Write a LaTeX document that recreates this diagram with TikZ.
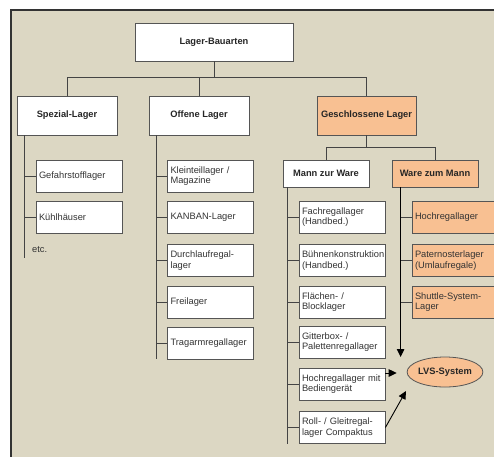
\documentclass[tikz,border=0pt]{standalone}
\usepackage{fontspec}
\setmainfont{Liberation Sans}
\usetikzlibrary{arrows.meta,shapes.geometric}
\definecolor{bg}{HTML}{DCD7C3}
\definecolor{peach}{HTML}{F8C092}
\definecolor{edge}{HTML}{555555}
\definecolor{linec}{HTML}{444444}
\definecolor{txt}{HTML}{333333}
\begin{document}
\begin{tikzpicture}[x=1pt,y=-1pt,
  every node/.style={font=\fontsize{9.3}{10.6}\selectfont, text=txt},
  hbox/.style={draw=edge, line width=0.8pt, fill=white, inner sep=0pt, align=center,
    font=\bfseries\fontsize{9.3}{10.6}\selectfont, text=black!85},
  cbox/.style={draw=edge, line width=0.8pt, fill=white, minimum width=86pt, minimum height=32pt,
    text width=80pt, inner sep=3pt, align=left},
  conn/.style={draw=linec, line width=0.9pt},
  arr/.style={draw=black, line width=0.9pt, -{Triangle[length=8pt,width=7.5pt]}}
]
\useasboundingbox (0,0) rectangle (494,456);
\fill[bg] (11,9.5) rectangle (510,470);
\draw[line width=2pt, draw=black!80] (11,470) -- (11,9.5) -- (510,9.5);

% top levels
\node[hbox, minimum width=158pt, minimum height=38pt] (root) at (214,42) {Lager-Bauarten};
\node[hbox, minimum width=100pt, minimum height=39pt] (spez) at (67,115.5) {Spezial-Lager};
\node[hbox, minimum width=100pt, minimum height=39pt] (off) at (199,115.5) {Offene Lager};
\node[hbox, minimum width=99pt, minimum height=39pt, fill=peach] (ges) at (366.5,115.5) {Geschlossene Lager};
\node[hbox, minimum width=86pt, minimum height=27pt] (mzw) at (326,173.5) {Mann zur Ware};
\node[hbox, minimum width=86pt, minimum height=27pt, fill=peach] (wzm) at (435,173.5) {Ware zum Mann};

% Spezial-Lager children
\node[cbox] (s1) at (79,176) {Gefahrstofflager};
\node[cbox] (s2) at (79,217) {Kühlhäuser};
\node[anchor=west, inner sep=0pt] (etc) at (32,250) {etc.};

% Offene Lager children
\node[cbox] (o1) at (210.5,176) {Kleinteillager /\\Magazine};
\node[cbox] (o2) at (210.5,217) {KANBAN-Lager};
\node[cbox] (o3) at (210.5,260.5) {Durchlaufregal-\\lager};
\node[cbox] (o4) at (210.5,302) {Freilager};
\node[cbox] (o5) at (210.5,343) {Tragarmregallager};

% Mann zur Ware children
\node[cbox] (m1) at (342,217) {Fachregallager\\(Handbed.)};
\node[cbox] (m2) at (342,260.5) {Bühnenkonstruktion\\(Handbed.)};
\node[cbox] (m3) at (342,302) {Flächen- /\\Blocklager};
\node[cbox] (m4) at (342,342) {Gitterbox- /\\Palettenregallager};
\node[cbox] (m5) at (342,384) {Hochregallager mit\\Bediengerät};
\node[cbox] (m6) at (342,427.5) {Roll- / Gleitregal-\\lager Compaktus};

% Ware zum Mann children
\node[cbox, fill=peach] (w1) at (455,217) {Hochregallager};
\node[cbox, fill=peach] (w2) at (455,260.5) {Paternosterlager\\(Umlaufregale)};
\node[cbox, fill=peach] (w3) at (455,302) {Shuttle-System-\\Lager};

% LVS
\node[ellipse, draw=edge, line width=0.8pt, fill=peach, minimum width=58pt, minimum height=30pt, inner sep=0pt,
  font=\bfseries\fontsize{9.3}{10.6}\selectfont, text=black!85] (lvs) at (445,372) {LVS-System};

% tree connectors
\draw[conn] (root.south) -- ++(0,16) coordinate (rj);
\draw[conn] (spez.north) |- (rj) -| (ges.north);
\draw[conn] (off.north) -- (off.north |- rj);
\draw[conn] (ges.south) -- ++(0,12) coordinate (gj);
\draw[conn] (mzw.north) |- (gj) -| (wzm.north);

% Spezial branch
\coordinate (sa) at ([xshift=8pt]spez.south west);
\coordinate (se) at (sa |- 0,258);
\draw[conn] (sa) -- (se);
\foreach \n in {s1,s2} \draw[conn] (\n.west) -- (\n.west -| sa);

% Offene branch
\coordinate (oa) at ([xshift=8pt]off.south west);
\draw[conn] (oa) -- (oa |- o5.south);
\foreach \n in {o1,o2,o3,o4,o5} \draw[conn] (\n.west) -- (\n.west -| oa);

% Mann zur Ware branch
\coordinate (ma) at ([xshift=5pt]mzw.south west);
\draw[conn] (ma) -- (ma |- m6.south);
\foreach \n in {m1,m2,m3,m4,m5,m6} \draw[conn] (\n.west) -- (\n.west -| ma);

% Ware zum Mann branch
\coordinate (wa) at ([xshift=9pt]wzm.south west);
\coordinate (wend) at (wa |- 0,357);
\draw[arr] (wa) -- (wend);
\foreach \n in {w1,w2,w3} \draw[conn] (\n.west) -- (\n.west -| wa);

% arrows to LVS
\draw[arr, shorten >=10pt] ([yshift=11pt]m5.east) -- ([yshift=11pt]m5.east -| lvs.west);
\coordinate (rt) at (406,391);
\draw[arr] (m6.east) -- (rt);
\end{tikzpicture}
\end{document}
